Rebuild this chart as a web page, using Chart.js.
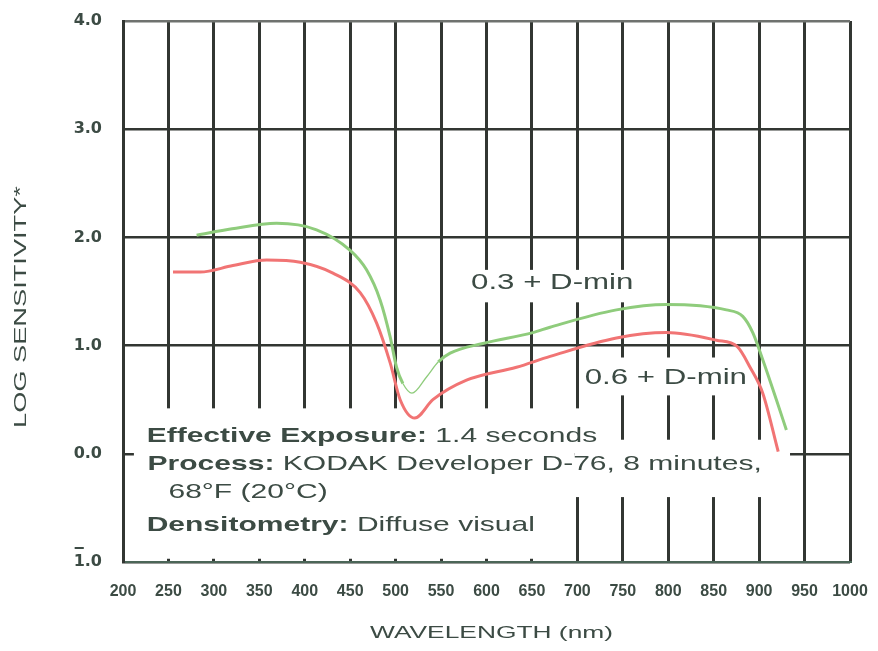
<!DOCTYPE html>
<html lang="en">
<head>
    <meta charset="UTF-8" />
    <title>Log sensitivity vs wavelength</title>
    <style>
        * { margin: 0; padding: 0; box-sizing: border-box; }
        body { background: #ffffff; width: 878px; height: 651px; overflow: hidden; }
        #chart { display: block; }
    </style>
</head>
<body>
    <canvas id="chart" width="878" height="651"></canvas>

    <script src="https://cdn.jsdelivr.net/npm/chart.js@4.4.1/dist/chart.umd.min.js"></script>
    <script>
        // 0.3 + D-min curve (green)
        const nmGreen = [281, 320, 369, 413, 450, 468, 483, 494, 501, 508, 518, 534, 547, 560, 596, 651, 670, 743, 798, 864, 882, 893, 904, 919, 930];
        const logGreen = [2.02, 2.08, 2.13, 2.07, 1.88, 1.70, 1.42, 1.08, 0.80, 0.65, 0.56, 0.71, 0.85, 0.93, 1.02, 1.12, 1.17, 1.33, 1.38, 1.33, 1.27, 1.12, 0.87, 0.50, 0.22];

        // 0.6 + D-min curve (red)
        const nmRed = [255, 285, 321, 358, 395, 431, 461, 479, 494, 505, 521, 541, 578, 633, 670, 743, 798, 853, 876, 890, 904, 921];
        const logRed = [1.68, 1.68, 1.74, 1.79, 1.77, 1.67, 1.49, 1.21, 0.84, 0.50, 0.33, 0.50, 0.68, 0.80, 0.90, 1.07, 1.12, 1.05, 0.99, 0.80, 0.56, 0.02];

        // axes  (bottom label is "bar 1" notation, bar drawn by the plugin)
        const xMin = 200, xMax = 1000, xStep = 50;
        const yMin = -1, yMax = 4;
        const yTickLabels = ["1.0", "0.0", "1.0", "2.0", "3.0", "4.0"];

        const ink = "#3c4b44";
        const gridInk = "#323632";
        const yTickFont = { family: '"DejaVu Sans", sans-serif', size: 16, weight: "bold" };
        const yTickPad = 21;

        // white patches behind the printed notes (nm / log units)
        const masks = [
            [212, 0.42, 697, -0.97],
            [697, 0.42, 705, 0.13],
            [697, 0.13, 934, -0.40],
            [580, 1.70, 766, 1.40],
            [707, 0.89, 881, 0.54],
        ];

        const curveLabels = [
            { text: "0.3 + D-min", nm: 583, v: 1.52 },
            { text: "0.6 + D-min", nm: 708, v: 0.645 },
        ];

        const noteLines = [
            { nm: 226, v: 0.11, parts: [["Effective Exposure:", "bold"], [" 1.4 seconds", "normal"]] },
            { nm: 227, v: -0.15, parts: [["Process:", "bold"], [" KODAK Developer D-76, 8 minutes,", "normal"]] },
            { nm: 250, v: -0.41, parts: [["68°F (20°C)", "normal"]] },
            { nm: 226, v: -0.71, parts: [["Densitometry:", "bold"], [" Diffuse visual", "normal"]] },
        ];

        // the scanned figure is wider than tall, so the type is stretched sideways
        const drawWide = (ctx, parts, size, sx, align) => {
            ctx.save();
            ctx.scale(sx, 1);
            let total = 0;
            parts.forEach(([t, w]) => {
                ctx.font = `${w} ${size}px "Liberation Sans", Arial, sans-serif`;
                total += ctx.measureText(t).width;
            });
            let cx = align === "center" ? -total / 2 : 0;
            parts.forEach(([t, w]) => {
                ctx.font = `${w} ${size}px "Liberation Sans", Arial, sans-serif`;
                ctx.fillText(t, cx, 0);
                cx += ctx.measureText(t).width;
            });
            ctx.restore();
        };

        const notesPlugin = {
            id: "notes",
            beforeDraw(chart) {
                const ctx = chart.ctx;
                ctx.save();
                ctx.fillStyle = "#ffffff";
                ctx.fillRect(0, 0, chart.width, chart.height);
                ctx.restore();
            },
            beforeDatasetsDraw(chart) {
                const { ctx, scales: { x, y } } = chart;
                ctx.save();
                ctx.fillStyle = "#ffffff";
                masks.forEach(([a, b, c, d]) => {
                    const x0 = x.getPixelForValue(a), x1 = x.getPixelForValue(c);
                    const y0 = y.getPixelForValue(b), y1 = y.getPixelForValue(d);
                    ctx.fillRect(x0, y0, x1 - x0, y1 - y0);
                });
                ctx.restore();
            },
            afterDatasetsDraw(chart) {
                const { ctx, scales: { x, y }, chartArea } = chart;
                ctx.save();
                ctx.fillStyle = ink;
                ctx.textBaseline = "alphabetic";
                ctx.textAlign = "left";

                curveLabels.forEach((l) => {
                    ctx.save();
                    ctx.translate(x.getPixelForValue(l.nm), y.getPixelForValue(l.v));
                    drawWide(ctx, [[l.text, "normal"]], 22, 1.42, "left");
                    ctx.restore();
                });

                noteLines.forEach((l) => {
                    ctx.save();
                    ctx.translate(x.getPixelForValue(l.nm), y.getPixelForValue(l.v));
                    drawWide(ctx, l.parts, 21, 1.43, "left");
                    ctx.restore();
                });

                // axis titles
                ctx.save();
                ctx.translate((chartArea.left + chartArea.right) / 2 + 5, 638);
                drawWide(ctx, [["WAVELENGTH (nm)", "normal"]], 17, 1.55, "center");
                ctx.restore();

                ctx.save();
                ctx.translate(26, 307);
                ctx.rotate(-Math.PI / 2);
                drawWide(ctx, [["LOG SENSITIVITY*", "normal"]], 16, 1.7, "center");
                ctx.restore();

                // bar over the first digit of the bottom tick (negative characteristic)
                ctx.font = `${yTickFont.weight} ${yTickFont.size}px ${yTickFont.family}`;
                const label = yTickLabels[0];
                const right = y.right - yTickPad;
                const left = right - ctx.measureText(label).width;
                const w1 = ctx.measureText(label[0]).width;
                const py = y.getPixelForValue(yMin) - 14;
                ctx.strokeStyle = ink;
                ctx.lineWidth = 2;
                ctx.beginPath();
                ctx.moveTo(left + 1, py);
                ctx.lineTo(left + w1 - 1, py);
                ctx.stroke();

                ctx.restore();
            },
        };

        const toPoints = (xs, ys) => xs.map((v, i) => ({ x: v, y: ys[i] }));

        new Chart(document.getElementById("chart"), {
            type: "line",
            data: {
                datasets: [
                    {
                        label: "0.3 + D-min",
                        data: toPoints(nmGreen, logGreen),
                        borderColor: "#8fcc7c",
                        borderWidth: 3,
                        pointRadius: 0,
                        cubicInterpolationMode: "monotone",
                        segment: {
                            borderWidth: (c) => (c.p0.parsed.x >= 505 && c.p1.parsed.x <= 550 ? 1.3 : 3),
                        },
                    },
                    {
                        label: "0.6 + D-min",
                        data: toPoints(nmRed, logRed),
                        borderColor: "#f17474",
                        borderWidth: 3,
                        pointRadius: 0,
                        cubicInterpolationMode: "monotone",
                    },
                ],
            },
            options: {
                responsive: false,
                animation: false,
                layout: { padding: { top: 21, right: 28, left: 0, bottom: 0 } },
                plugins: {
                    legend: { display: false },
                    tooltip: { enabled: false },
                },
                scales: {
                    x: {
                        type: "linear",
                        min: xMin,
                        max: xMax,
                        afterFit: (s) => { s.height = 89; s.paddingLeft = 0; s.paddingRight = 0; },
                        ticks: {
                            stepSize: xStep,
                            padding: 20,
                            color: ink,
                            font: { family: '"Liberation Sans", Arial, sans-serif', size: 16, weight: "bold" },
                            maxRotation: 0,
                            autoSkip: false,
                            callback: (v) => String(v),
                        },
                        grid: { color: gridInk, lineWidth: 3, drawTicks: false },
                        border: { color: "#4b6658", width: 2 },
                    },
                    y: {
                        min: yMin,
                        max: yMax,
                        afterFit: (s) => { s.width = 123; s.paddingTop = 0; s.paddingBottom = 0; },
                        ticks: {
                            stepSize: 1,
                            padding: yTickPad,
                            color: ink,
                            font: yTickFont,
                            callback: (v) => yTickLabels[v - yMin],
                        },
                        grid: {
                            color: (c) => (c.tick && c.tick.value === yMax ? "#6f726f" : gridInk),
                            lineWidth: 2.5,
                            drawTicks: false,
                        },
                        border: { color: gridInk, width: 3 },
                    },
                },
            },
            plugins: [notesPlugin],
        });
    </script>
</body>
</html>
